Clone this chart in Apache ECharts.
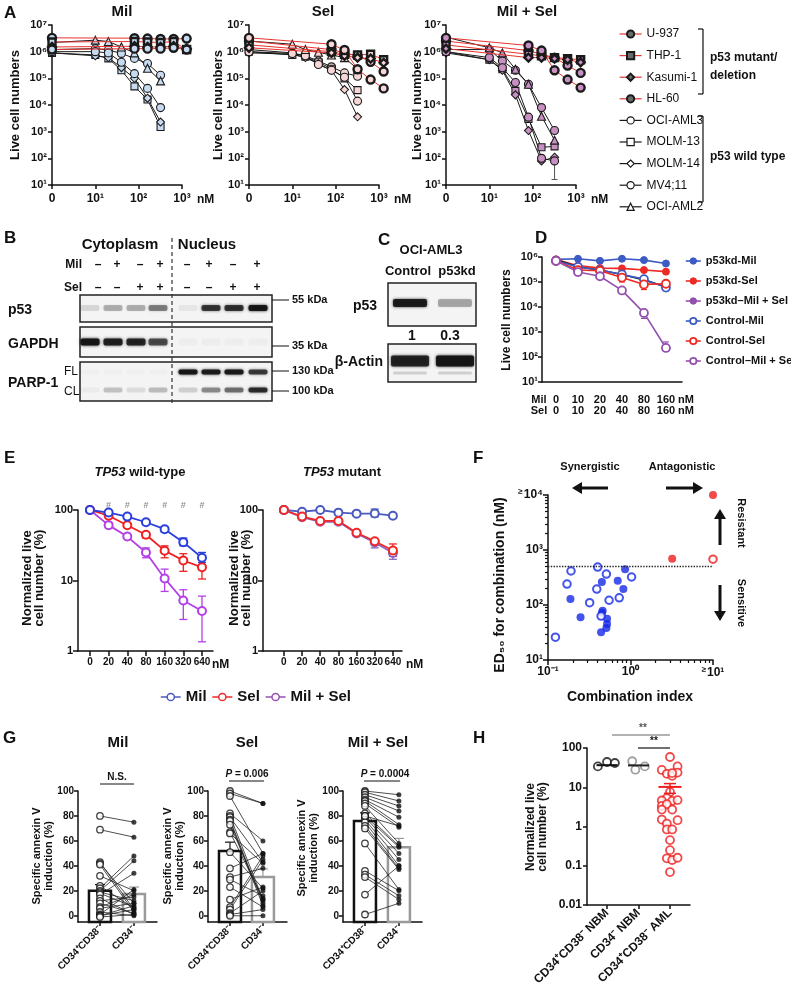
<!DOCTYPE html>
<html><head><meta charset="utf-8"><title>Figure</title>
<script src="https://cdn.jsdelivr.net/npm/echarts@6.0.0/dist/echarts.min.js"></script>
<style>html,body{margin:0;padding:0;background:#fff;}#chart{width:791px;height:990px;}</style>
</head><body><div id="chart"></div>
<script>
const FONT = '"Liberation Sans", Arial, Helvetica, sans-serif';
// ================= DATA =================
// Panel A (0 nM plotted at the axis origin)
const aCellLines = ['U-937','THP-1','Kasumi-1','HL-60','OCI-AML3','MOLM-13','MOLM-14','MV4;11','OCI-AML2'];
const aDoseMutant = [0, 80, 160, 320, 640, 1280];
const aDoseWildType = [0, 10, 20, 40, 80, 160, 320];
const aMil = [
  [3.3e6, 3.2e6, 3.1e6, 3.0e6, 3.0e6, 3.1e6],
  [2.3e6, 2.4e6, 2.3e6, 2.2e6, 2.4e6, 1.2e6],
  [1.5e6, 1.6e6, 1.5e6, 1.5e6, 1.6e6, 1.3e6],
  [1.2e6, 1.3e6, 1.3e6, 1.3e6, 1.4e6, 1.2e6],
  [1.2e6, 1.3e6, 1.15e6, 8.6e5, 5.6e5, 3.6e5, 1.3e5],
  [9e5, 7.5e5, 5.6e5, 2e5, 5e4, 1.6e4, 1.5e3],
  [9e5, 7e5, 6e5, 2.5e5, 1e5, 1.8e4, 2.3e3],
  [1e6, 1e6, 9e5, 4e5, 1.5e5, 4.2e4, 8e3],
  [2.2e6, 2.7e6, 2.4e6, 1.5e6, 9e5, 2.4e5, 8e4]
];
const aSel = [
  [2.5e6, 1.2e6, 9e5, 7e5, 4.2e5, 1.8e5],
  [1.8e6, 1e6, 8e5, 7.5e5, 8e5, 5e5],
  [1.4e6, 9e5, 7e5, 6e5, 5.5e5, 3.8e5],
  [3.3e6, 1.9e6, 1.15e6, 2.2e5, 9e4, 4.2e4],
  [1.2e6, 9e5, 7e5, 4.5e5, 2.7e5, 1.6e5, 1.2e5],
  [1e6, 7.5e5, 6.5e5, 4e5, 2.3e5, 1e5, 3.6e4],
  [9e5, 8e5, 6e5, 3.5e5, 2e5, 3.8e4, 3.6e3],
  [1e6, 8.5e5, 7e5, 3.3e5, 2e5, 1.1e5, 1.4e4],
  [2.5e6, 1.9e6, 1.2e6, 9.5e5, 7.5e5, 6e5, 2.2e5]
];
const aMilSel = [
  [2.5e6, 1.1e6, 8e5, 6e5, 3e5, 1.6e5],
  [1.8e6, 8e5, 7e5, 6e5, 5.5e5, 5e5],
  [1.3e6, 6e5, 6e5, 5.5e5, 5e5, 4e5],
  [3.3e6, 1.7e6, 1.1e6, 2e5, 9e4, 4.5e4],
  [1.2e6, 1.2e6, 4.5e5, 2e5, 6e4, 8e3, 1.1e3],
  [1e6, 5e5, 2.2e5, 3.4e4, 3e3, 2.6e2, 2.8e2],
  [9e5, 5e5, 2e5, 2.4e4, 1.1e3, 8e1, 1.1e2],
  [1e6, 6e5, 2.5e5, 7e4, 3.5e3, 1e2, 8e1],
  [3.5e6, 1.4e6, 9e5, 2.2e5, 6e4, 3.8e3, 4.8e2]
];
const aMilSelErr = [[320, 16, 80]];

// Panel B / C blots (relative band intensities)
const bMilSigns = ['–','+','–','+','–','+','–','+'];
const bSelSigns = ['–','–','+','+','–','–','+','+'];
const bP53 = [0.12, 0.28, 0.28, 0.45, 0.06, 0.75, 0.78, 0.95];
const bGapdh = [0.95, 0.88, 0.85, 0.65, 0.03, 0.03, 0.03, 0.03];
const bParpFL = [0.02, 0.02, 0.02, 0.02, 0.95, 0.9, 0.92, 0.72];
const bParpCL = [0.04, 0.2, 0.1, 0.22, 0.15, 0.4, 0.5, 0.8];
const bMarkers = ['55 kDa', '35 kDa', '130 kDa', '100 kDa'];
const cLanes = ['Control', 'p53kd'];
const cP53 = [0.9, 0.3];
const cActin = [0.85, 0.95];
const cQuant = ['1', '0.3'];

// Panel D
const dMilDose = [0, 10, 20, 40, 80, 160];
const dSelDose = [0, 10, 20, 40, 80, 160];
const dSeriesNames = ['p53kd-Mil','p53kd-Sel','p53kd–Mil + Sel','Control-Mil','Control-Sel','Control–Mil + Sel'];
const dP53kdMil = [8e5, 8.5e5, 7e5, 8.5e5, 7.5e5, 5.5e5];
const dP53kdSel = [8e5, 4.5e5, 3.6e5, 3.5e5, 3e5, 2.6e5];
const dP53kdMilSel = [8e5, 4e5, 3e5, 2e5, 1.2e5, 6.5e4];
const dControlMil = [7e5, 4e5, 3e5, 2e5, 1.3e5, 6e4];
const dControlSel = [7e5, 3e5, 2.8e5, 1.5e5, 8e4, 8.5e4];
const dControlMilSel = [7e5, 2.5e5, 1.7e5, 4.6e4, 5.8e3, 2.3e2];
const dControlMilErr = [[0, 5e5, 9.5e5], [5, 4.5e4, 9e4]];
const dControlSelErr = [[3, 1e5, 2e5], [4, 5e4, 1.2e5]];
const dControlMilSelErr = [[1, 1.8e5, 3.2e5], [4, 3.5e3, 8e3], [5, 1.7e2, 4e2]];

// Panel E
const eDoses = [0, 20, 40, 80, 160, 320, 640];
const eWtMil = [100, 92, 80.6, 67, 53.4, 35, 21];
const eWtSel = [100, 83, 60.8, 44.5, 26.5, 19.2, 15.4];
const eWtMilSel = [100, 61, 42, 25, 10.7, 5.2, 3.7];
const eMutMil = [100, 94.7, 100, 91.7, 88.8, 89, 83];
const eMutSel = [100, 80.6, 70, 70, 47.6, 36, 26.6];
const eMutMilSel = [100, 79, 68, 68, 46.5, 34.6, 24.5];
const eWtMilErr = [[4, 49, 58], [5, 31, 40], [6, 18, 25]];
const eWtSelErr = [[3, 40, 48], [4, 21, 31], [5, 13.5, 24], [6, 10.5, 20]];
const eWtMilSelErr = [[3, 21, 29], [4, 7, 14.5], [5, 2.8, 7.4], [6, 1.35, 6]];
const eMutMilErr = [[5, 80, 103], [6, 78, 88]];
const eMutSelErr = [[6, 22, 33]];
const eMutMilSelErr = [[5, 29, 38], [6, 20, 29]];
const eSignificant = [1, 2, 3, 4, 5, 6];

// Panel F  [combination index, ED50 nM]
const fSynergyFilled = [[0.86,445],[0.70,276],[0.45,263],[0.82,195],[0.187,129],[0.46,79],[0.45,72],[0.248,60],[0.52,56],[0.52,45],[0.51,38],[0.44,32]];
const fSynergyOpen = [[0.40,490],[0.19,415],[0.51,365],[1.03,323],[0.17,240],[0.39,195],[0.73,135],[0.55,122],[0.32,110],[0.44,63],[0.123,26]];
const fAntagonFilled = [[10,10000],[3.2,690]];
const fAntagonOpen = [[10,680]];
const fCiThreshold = 1;
const fEd50Threshold = 500;

// Panel G (paired, CD34+CD38- vs CD34-)
const gCategories = ['CD34⁺CD38⁻', 'CD34⁻'];
const gMilLeft  = [80, 69, 43, 42, 41, 32, 24, 22, 20, 19, 18, 17, 14, 12, 10, 7, 6, 3, 1, 0, 0, -1];
const gMilRight = [75, 63, 5, 10, 3, 20, 6, 48, 44, 12, 7, 34, 1, 15, 2, 17, 10, 0, 21, 8, 5, 1];
const gMilMean = [20, 17.5], gMilSem = [5, 5.5];
const gSelLeft  = [100, 98, 96, 82, 80, 79, 77, 76, 73, 67, 66, 51, 38, 31, 29, 23, 13, 7, 5, 2, 1, 0];
const gSelRight = [90, 90, 50, 60, 13, 43, 10, 8, 12, 14, 42, 22, 50, 38, 16, 7, 23, 48, 45, 20, 5, 0];
const gSelMean = [52, 31], gSelSem = [7, 6.5];
const gMsLeft  = [100, 99, 97, 95, 93, 92, 90, 88, 82, 80, 79, 77, 75, 72, 70, 58, 36, 33, 31, 17, 1, 80];
const gMsRight = [97, 92, 88, 84, 79, 73, 71, 58, 56, 55, 50, 45, 40, 38, 37, 21, 20, 16, 13, 40, 10, 72];
const gMsMean = [76, 55], gMsSem = [6.5, 7];

// Panel H
const hCategories = ['CD34⁺CD38⁻ NBM', 'CD34⁻ NBM', 'CD34⁺CD38⁻ AML'];
const hNbm1 = [34, 44, 41.5];
const hNbm2 = [46, 28, 34];
const hAml = [59, 27.6, 34, 22, 19.5, 23.6, 23, 7.6, 5.3, 4.6, 4.5, 4.7, 3.35, 3.7, 2.7, 2.7, 1.5, 1.45, 1.19, 0.84, 0.84, 0.45, 0.25, 0.155, 0.14, 0.16, 0.069];
const hMeans = [36.5, 36, 10.2];
const hSemHi = [0, 0, 12.4];
const hSemLo = [0, 0, 7];
// horizontal jitter of the dots (layout only)
const hNbm1Jit = [-0.29, 0, 0.25];
const hNbm2Jit = [-0.2, -0.1, 0.2];
const hAmlJit = [0, -0.26, 0.24, -0.1, 0.07, 0.24, 0.07, 0, -0.1, -0.26, 0.07, 0.24, -0.26, -0.1, 0.07, -0.26, -0.26, 0.24, -0.1, -0.1, 0.07, 0, 0, -0.1, 0.07, 0.24, 0];

// ================= BUILD =================
const SUP = {'0':'⁰','1':'¹','2':'²','3':'³','4':'⁴','5':'⁵','6':'⁶','7':'⁷','8':'⁸','9':'⁹','-':'⁻'};
const p10 = e => '10' + String(e).split('').map(c => SUP[c]).join('');
const lg = v => Math.round(Math.log10(v));
const decades = (a, b) => { const r = []; for (let e = a; e <= b; e++) r.push(Math.pow(10, e)); return r; };

const grid = [], xAxis = [], yAxis = [], series = [], graphic = [], legend = [];
function addGrid(l, t, w, h) { grid.push({left: l, top: t, width: w, height: h, containLabel: false, outerBoundsMode: 'none', show: false}); return grid.length - 1; }
function axis(o) {
  const a = {
    gridIndex: o.g, type: o.type || 'value', min: o.min, max: o.max,
    axisLine: {show: o.line !== false, onZero: false, lineStyle: {color: '#111', width: o.lw || 1.5}},
    axisTick: {show: o.ticks !== false, inside: false, length: o.tickLen || 4, lineStyle: {color: '#111', width: o.lw || 1.5}},
    axisLabel: {show: o.labels !== false, color: '#111', fontFamily: FONT, fontWeight: 'bold', fontSize: o.fs || 11,
      margin: o.margin || 6, rotate: o.rotate || 0, hideOverlap: false, showMinLabel: true, showMaxLabel: true},
    splitLine: {show: false}, minorTick: {show: false}, splitArea: {show: false}, axisPointer: {show: false}
  };
  if (o.pos) a.position = o.pos;
  if (o.fmt) a.axisLabel.formatter = o.fmt;
  if (o.lh) a.axisLabel.lineHeight = o.lh;
  if (o.rich) a.axisLabel.rich = o.rich;
  if (o.tv) a.axisTick.customValues = o.tv;
  if (o.lv) a.axisLabel.customValues = o.lv;
  if (o.type === 'log') a.logBase = 10;
  return a;
}
function addX(o) { xAxis.push(axis(o)); return xAxis.length - 1; }
function addY(o) { yAxis.push(axis(o)); return yAxis.length - 1; }

function T(x, y, text, o = {}) {
  const size = o.size || 12;
  const st = {text, fill: o.color || '#111', fontFamily: FONT, fontSize: size, fontWeight: o.weight || 'bold',
    fontStyle: o.italic ? 'italic' : 'normal', align: o.align || 'center', verticalAlign: o.va || 'middle',
    textAlign: o.align || 'center', textVerticalAlign: o.va || 'middle', lineHeight: o.lh || Math.round(size * 1.1)};
  if (o.rich) st.rich = o.rich;
  graphic.push({type: 'text', x, y, rotation: o.rot || 0, z: 50, silent: true, style: st});
}
function Ln(x1, y1, x2, y2, o = {}) {
  const st = {stroke: o.color || '#111', lineWidth: o.w || 1.5};
  if (o.dash) st.lineDash = o.dash;
  graphic.push({type: 'line', z: 50, silent: true, shape: {x1, y1, x2, y2}, style: st});
}
function Rc(x, y, w, h, o = {}) {
  graphic.push({type: 'rect', z: o.z || 40, silent: true, shape: {x, y, width: w, height: h, r: o.r || 0},
    style: {fill: o.fill || 'none', stroke: o.stroke || 'none', lineWidth: o.w || 1, shadowBlur: o.blur || 0, shadowColor: o.sc || 'rgba(0,0,0,0)'}});
}
function Pg(points, color) { graphic.push({type: 'polygon', z: 50, silent: true, shape: {points}, style: {fill: color}}); }
function arrow(x1, y1, x2, y2) {
  const dx = x2 - x1, dy = y2 - y1, len = Math.hypot(dx, dy), ux = dx / len, uy = dy / len;
  const head = 10, hw = 6, bx = x2 - ux * head, by = y2 - uy * head;
  Ln(x1, y1, bx, by, {w: 3});
  Pg([[x2, y2], [bx - uy * hw, by + ux * hw], [bx + uy * hw, by - ux * hw]], '#111');
}
function errBars(xi, yi, data, color, cap, w, z) {
  series.push({type: 'custom', xAxisIndex: xi, yAxisIndex: yi, z: z || 2, silent: true, clip: false, data,
    renderItem: (params, api) => {
      const x = api.value(0), lo = api.value(1), hi = api.value(2);
      const a = api.coord([x, lo]), b = api.coord([x, hi]);
      const st = {stroke: color, lineWidth: w || 1.3, fill: null};
      return {type: 'group', children: [
        {type: 'line', shape: {x1: a[0], y1: a[1], x2: b[0], y2: b[1]}, style: st},
        {type: 'line', shape: {x1: a[0] - cap, y1: a[1], x2: a[0] + cap, y2: a[1]}, style: st},
        {type: 'line', shape: {x1: b[0] - cap, y1: b[1], x2: b[0] + cap, y2: b[1]}, style: st}]};
    }});
}
const LETTER = 17;

// ---------- Panel A ----------
T(4, 13, 'A', {size: LETTER, align: 'left'});
const aPanels = [
  {data: aMil, left: 52, fill: '#c7dbf0', title: 'Mil', tx: 122, ytx: 15},
  {data: aSel, left: 249, fill: '#f7d6d6', title: 'Sel', tx: 323, ytx: 218},
  {data: aMilSel, left: 446, fill: '#c78fc2', title: 'Mil + Sel', tx: 527, ytx: 417}
];
const aSym = ['circle','rect','diamond','circle','circle','rect','diamond','circle','triangle'];
const aSymSize = [8, 7, 8, 8, 8, 7, 8, 8, 8];
aPanels.forEach((p, pi) => {
  const g = addGrid(p.left, 25, 130, 160);
  const xi = addX({g, type: 'log', min: 1, max: 1000, tv: decades(0, 3), lv: decades(0, 3),
    fmt: v => v < 1.5 ? '0' : p10(lg(v)), fs: 12, margin: 8});
  const yi = addY({g, type: 'log', min: 10, max: 1e7, tv: decades(1, 7), lv: decades(1, 7), fmt: v => p10(lg(v)), fs: 11, margin: 5});
  p.data.forEach((vals, i) => {
    const mut = i < 4; const doses = mut ? aDoseMutant : aDoseWildType;
    series.push({type: 'line', name: aCellLines[i], xAxisIndex: xi, yAxisIndex: yi, clip: false, z: mut ? 4 : 3,
      data: doses.map((d, k) => [d === 0 ? 1 : d, vals[k]]),
      symbol: aSym[i], symbolSize: aSymSize[i],
      lineStyle: {color: mut ? '#e8332e' : '#1a1a1a', width: 1},
      itemStyle: {color: p.fill, borderColor: '#1a1a1a', borderWidth: mut ? 2.4 : 1.1}});
  });
  if (pi === 2) errBars(xi, yi, aMilSelErr, '#555', 3, 1, 2);
  T(p.tx, 12, p.title, {size: 15});
  T(p.ytx, 105, 'Live cell numbers', {size: 13, rot: Math.PI / 2});
  T(p.left + 145, 200, 'nM', {size: 12, align: 'left'});
});
legend.push({orient: 'vertical', left: 614, top: 22, itemWidth: 22, itemHeight: 9, itemGap: 7.6, selectedMode: false,
  textStyle: {fontFamily: FONT, fontSize: 12, color: '#111', lineHeight: 14},
  data: aCellLines.map((n, i) => ({name: n,
    itemStyle: {color: i < 4 ? '#6a6a6a' : '#fff', borderColor: '#1a1a1a', borderWidth: i < 4 ? 2 : 1.2},
    lineStyle: {color: i < 4 ? '#e8332e' : '#1a1a1a', width: 1.2}}))});
Ln(703, 29, 703, 94, {w: 1.2}); Ln(698, 29, 703, 29, {w: 1.2}); Ln(698, 94, 703, 94, {w: 1.2});
Ln(703, 116, 703, 202, {w: 1.2}); Ln(698, 116, 703, 116, {w: 1.2}); Ln(698, 202, 703, 202, {w: 1.2});
T(710, 58, 'p53 mutant/', {size: 12, align: 'left'});
T(710, 76, 'deletion', {size: 12, align: 'left'});
T(710, 157, 'p53 wild type', {size: 12, align: 'left'});

// ---------- Panel B ----------
T(4, 238, 'B', {size: LETTER, align: 'left'});
T(120, 245, 'Cytoplasm', {size: 15});
T(207, 245, 'Nucleus', {size: 15});
T(82, 265, 'Mil', {size: 12, align: 'right'});
T(82, 288, 'Sel', {size: 12, align: 'right'});
const bSignX = [98, 117, 140, 160, 187, 209, 233, 257];
const bLaneX = [90, 113, 136, 158, 188, 211, 234, 258];
bSignX.forEach((x, i) => { T(x, 265, bMilSigns[i], {size: 12}); T(x, 288, bSelSigns[i], {size: 12}); });
const boxStyle = {stroke: '#222', w: 1.5, fill: '#f4f4f4', z: 30};
Rc(80, 295, 192, 27, boxStyle); Rc(80, 327, 192, 30, boxStyle); Rc(80, 362, 192, 39, boxStyle);
function band(cx, cy, w, h, a) { Rc(cx - w / 2, cy - h / 2, w, h, {fill: `rgba(20,20,20,${a})`, blur: 3, sc: `rgba(20,20,20,${a})`, r: 2, z: 35}); }
bLaneX.forEach((x, i) => {
  band(x, 308, 19, 6, bP53[i]);
  band(x, 342, 19, 7, bGapdh[i]);
  band(x, 372, 19, 5, bParpFL[i]);
  band(x, 390, 19, 5, bParpCL[i]);
});
Ln(172, 238, 172, 405, {w: 1.2, dash: [4, 3], color: '#333'});
T(8, 310, 'p53', {size: 14, align: 'left'});
T(8, 344, 'GAPDH', {size: 14, align: 'left'});
T(8, 383, 'PARP-1', {size: 14, align: 'left'});
T(64, 372, 'FL', {size: 12, weight: 'normal', align: 'left'});
T(64, 392, 'CL', {size: 12, weight: 'normal', align: 'left'});
[300, 346, 371, 391].forEach((y, i) => { Ln(272, y, 289, y, {w: 1}); T(292, y, bMarkers[i], {size: 11, align: 'left'}); });

// ---------- Panel C ----------
T(378, 240, 'C', {size: LETTER, align: 'left'});
T(431, 250, 'OCI-AML3', {size: 13});
const cLaneX = [410, 455];
cLaneX.forEach((x, i) => { T(x - (i ? -2 : 2), 271, cLanes[i], {size: 13}); });
Rc(388, 283, 88, 43, boxStyle); Rc(388, 344, 88, 38, boxStyle);
cLaneX.forEach((x, i) => {
  band(x, 303, 34, 8, cP53[i]);
  band(x, 361, 38, 11, cActin[i]);
  band(x, 373, 34, 3, 0.15);
  T(x + (i ? -5 : 2), 336, cQuant[i], {size: 14});
});
T(377, 306, 'p53', {size: 14, align: 'right'});
T(383, 362, 'β-Actin', {size: 14, align: 'right'});

// ---------- Panel D ----------
T(535, 238, 'D', {size: LETTER, align: 'left'});
const gD = addGrid(542, 257, 140, 125);
const xD = addX({g: gD, min: -0.636, max: 5.73, ticks: false, lv: [0, 1, 2, 3, 4, 5],
  fmt: v => dMilDose[Math.round(v)] + '\n' + dSelDose[Math.round(v)], fs: 11, margin: 12, lh: 11});
const yD = addY({g: gD, type: 'log', min: 10, max: 1e6, tv: decades(1, 6), lv: decades(1, 6), fmt: v => p10(lg(v)), fs: 11, margin: 4});
T(507, 320, 'Live cell numbers', {size: 12, rot: Math.PI / 2});
T(539, 400, 'Mil', {size: 11}); T(539, 411, 'Sel', {size: 11});
T(678, 400, 'nM', {size: 11, align: 'left'}); T(678, 411, 'nM', {size: 11, align: 'left'});
const dBlue = '#3c5bc4', dRed = '#ee2a24', dPurple = '#9450ae';
const dData = [dP53kdMil, dP53kdSel, dP53kdMilSel, dControlMil, dControlSel, dControlMilSel];
const dColors = [dBlue, dRed, dPurple, dBlue, dRed, dPurple];
dData.forEach((vals, k) => {
  const kd = k < 3, c = dColors[k];
  series.push({type: 'line', name: dSeriesNames[k], xAxisIndex: xD, yAxisIndex: yD, clip: false, z: 3 + (k === 5 ? 1 : 0),
    data: vals.map((v, i) => [i, v]), symbol: 'circle', symbolSize: kd ? 7 : 8,
    lineStyle: {color: k === 2 ? '#1a1a1a' : c, width: 1.6},
    itemStyle: {color: kd ? c : '#fff', borderColor: c, borderWidth: kd ? 1 : 1.8}});
});
errBars(xD, yD, dControlMilErr, dBlue, 3, 1.2);
errBars(xD, yD, dControlSelErr, dRed, 3, 1.2);
errBars(xD, yD, dControlMilSelErr, dPurple, 3, 1.2);
legend.push({orient: 'vertical', left: 680, top: 249, itemWidth: 15, itemHeight: 8, itemGap: 6, selectedMode: false,
  textStyle: {fontFamily: FONT, fontSize: 11, fontWeight: 'bold', color: '#111', lineHeight: 14},
  data: dSeriesNames.map((n, k) => ({name: n, itemStyle: {color: k < 3 ? dColors[k] : '#fff', borderColor: dColors[k], borderWidth: k < 3 ? 1 : 1.8},
    lineStyle: {color: dColors[k], width: 1.6}}))});

// ---------- Panel E ----------
T(4, 458, 'E', {size: LETTER, align: 'left'});
const eRich = {i: {fontStyle: 'italic', fontWeight: 'bold', fontSize: 13, fontFamily: FONT, fill: '#111'}};
T(140, 472, '{i|TP53} wild-type', {size: 13, rich: eRich});
T(342, 472, '{i|TP53} mutant', {size: 13, rich: eRich});
const ePanels = [
  {left: 78, width: 135, min: -0.64, max: 6.59, data: [eWtMil, eWtSel, eWtMilSel], err: [eWtMilErr, eWtSelErr, eWtMilSelErr],
   colors: ['#2a3fdc', '#f02020', '#b43fe8'], nm: 212, ytx: 33},
  {left: 263, width: 139, min: -1.15, max: 6.5, data: [eMutMil, eMutSel, eMutMilSel], err: [eMutMilErr, eMutSelErr, eMutMilSelErr],
   colors: ['#4a5bc0', '#f02828', '#8a64c0'], nm: 406, ytx: 240}
];
const eNames = ['Mil', 'Sel', 'Mil + Sel'];
ePanels.forEach((p, pi) => {
  const g = addGrid(p.left, 510, p.width, 141);
  const xi = addX({g, min: p.min, max: p.max, tv: [0, 1, 2, 3, 4, 5, 6], lv: [0, 1, 2, 3, 4, 5, 6],
    fmt: v => String(eDoses[Math.round(v)]), fs: 10, margin: 6, tickLen: 5});
  const yi = addY({g, type: 'log', min: 1, max: 100, tv: [1, 10, 100], lv: [1, 10, 100], fmt: v => String(Math.round(v)), fs: 11, margin: 5, tickLen: 5});
  const order = pi === 0 ? [2, 1, 0] : [2, 0, 1];
  order.forEach(k => {
    errBars(xi, yi, p.err[k], p.colors[k], 4, 1.3, 2);
    series.push({type: 'line', name: eNames[k], xAxisIndex: xi, yAxisIndex: yi, clip: false, z: 3,
      data: p.data[k].map((v, i) => [i, v]), symbol: 'circle', symbolSize: 8,
      lineStyle: {color: p.colors[k], width: 1.8},
      itemStyle: {color: '#fff', borderColor: p.colors[k], borderWidth: 2}});
  });
  if (pi === 0) {
    series.push({type: 'scatter', xAxisIndex: xi, yAxisIndex: yi, clip: false, silent: true, symbolSize: 1,
      itemStyle: {color: 'rgba(0,0,0,0)'}, data: eSignificant.map(i => [i, 117]),
      label: {show: true, position: 'inside', formatter: '#', color: '#777', fontSize: 9, fontFamily: FONT, fontWeight: 'bold'}});
  }
  T(p.nm, 665, 'nM', {size: 12, align: 'left'});
  T(p.ytx, 578, 'Normalized live\ncell number (%)', {size: 13, rot: Math.PI / 2, lh: 12});
});
legend.push({orient: 'horizontal', left: 155, top: 684, itemWidth: 20, itemHeight: 9, itemGap: 5, selectedMode: false,
  textStyle: {fontFamily: FONT, fontSize: 15, fontWeight: 'bold', color: '#111', lineHeight: 16},
  data: eNames.map((n, k) => ({name: n, itemStyle: {color: '#fff', borderColor: ['#4a5bc0', '#f02828', '#9450ae'][k], borderWidth: 1.5},
    lineStyle: {color: ['#4a5bc0', '#f02828', '#9450ae'][k], width: 1.5}}))});

// ---------- Panel F ----------
T(473, 458, 'F', {size: LETTER, align: 'left'});
const gF = addGrid(548, 495, 165, 165);
const geRich = {g: {fontSize: 8, fontWeight: 'bold', fontFamily: FONT, color: '#111', padding: [0, 1, 6, 0]}};
const xF = addX({g: gF, type: 'log', min: 0.1, max: 10, tv: [0.1, 1, 10], lv: [0.1, 1, 10],
  fmt: v => (lg(v) === 1 ? '{g|≥}' : '') + p10(lg(v)), rich: geRich, fs: 12, margin: 6, tickLen: 5});
const fMinorX = [], fMinorY = [];
[0.1, 1].forEach(d => { for (let m = 2; m <= 9; m++) fMinorX.push(+(d * m).toPrecision(3)); });
[10, 100, 1000].forEach(d => { for (let m = 2; m <= 9; m++) fMinorY.push(d * m); });
addX({g: gF, type: 'log', min: 0.1, max: 10, pos: 'bottom', line: false, labels: false, tv: fMinorX, tickLen: 3, lw: 1.2});
const yF = addY({g: gF, type: 'log', min: 10, max: 1e4, tv: decades(1, 4), lv: decades(1, 4),
  fmt: v => (lg(v) === 4 ? '{g|≥}' : '') + p10(lg(v)), rich: geRich, fs: 12, margin: 5, tickLen: 5});
addY({g: gF, type: 'log', min: 10, max: 1e4, pos: 'left', line: false, labels: false, tv: fMinorY, tickLen: 3, lw: 1.2});
const fBlue = '#1428e6', fRed = '#ee1d1d';
series.push({type: 'scatter', xAxisIndex: xF, yAxisIndex: yF, clip: false, z: 4, symbolSize: 8,
  itemStyle: {color: fBlue}, data: fSynergyFilled,
  markLine: {silent: true, symbol: ['none', 'none'], label: {show: false}, animation: false,
    lineStyle: {type: 'dotted', color: '#222', width: 1.4},
    data: [[{coord: [fCiThreshold, 10]}, {coord: [fCiThreshold, 1.1e4]}], [{coord: [0.1, fEd50Threshold]}, {coord: [10, fEd50Threshold]}]]}});
series.push({type: 'scatter', xAxisIndex: xF, yAxisIndex: yF, clip: false, z: 4, symbolSize: 7.5,
  itemStyle: {color: '#fff', borderColor: fBlue, borderWidth: 2}, data: fSynergyOpen});
series.push({type: 'scatter', xAxisIndex: xF, yAxisIndex: yF, clip: false, z: 4, symbolSize: 8,
  itemStyle: {color: fRed}, data: fAntagonFilled});
series.push({type: 'scatter', xAxisIndex: xF, yAxisIndex: yF, clip: false, z: 4, symbolSize: 7.5,
  itemStyle: {color: '#fff', borderColor: fRed, borderWidth: 2}, data: fAntagonOpen});
T(630, 697, 'Combination index', {size: 14});
T(500, 585, 'ED₅₀ for combination (nM)', {size: 14, rot: Math.PI / 2});
T(590, 467, 'Synergistic', {size: 11}); T(682, 467, 'Antagonistic', {size: 11});
arrow(608, 488, 572, 488); arrow(666, 488, 703, 488);
arrow(720, 545, 720, 509); arrow(720, 585, 720, 621);
T(741, 523, 'Resistant', {size: 11, rot: -Math.PI / 2});
T(741, 603, 'Sensitive', {size: 11, rot: -Math.PI / 2});

// ---------- Panel G ----------
T(3, 738, 'G', {size: LETTER, align: 'left'});
const gRichP = {i: {fontStyle: 'italic', fontWeight: 'bold', fontSize: 10, fontFamily: FONT, fill: '#111'}};
const gPanels = [
  {left: 78, min: -0.647, max: 1.68, L: gMilLeft, R: gMilRight, mean: gMilMean, sem: gMilSem, title: 'Mil', tx: 118, ytx: 43, yty: 856,
   sig: 'N.S.', sx: 117, sy: 777, l1: 100, l2: 134, ly: 784},
  {left: 208, min: -0.667, max: 1.73, L: gSelLeft, R: gSelRight, mean: gSelMean, sem: gSelSem, title: 'Sel', tx: 247, ytx: 174, yty: 856,
   sig: '{i|P} = 0.006', sx: 247, sy: 774, l1: 229, l2: 264, ly: 781},
  {left: 343, min: -0.647, max: 1.68, L: gMsLeft, R: gMsRight, mean: gMsMean, sem: gMsSem, title: 'Mil + Sel', tx: 378, ytx: 308, yty: 848,
   sig: '{i|P} = 0.0004', sx: 385, sy: 774, l1: 364, l2: 400, ly: 781}
];
gPanels.forEach(p => {
  const g = addGrid(p.left, 791, 79, 131);
  const xi = addX({g, min: p.min, max: p.max, tv: [0, 1], lv: [0, 1], fmt: v => gCategories[Math.round(v)], rotate: 45, fs: 10, margin: 6});
  const yi = addY({g, min: -5, max: 100, tv: [0, 20, 40, 60, 80, 100], lv: [0, 20, 40, 60, 80, 100], fs: 10, margin: 4});
  series.push({type: 'custom', xAxisIndex: xi, yAxisIndex: yi, z: 1, silent: true, clip: false,
    data: p.mean.map((m, k) => [k, m, p.sem[k]]),
    renderItem: (params, api) => {
      const k = api.value(0), m = api.value(1), s = api.value(2);
      const top = api.coord([k, m]), bot = api.coord([k, -5]), cap = api.coord([k, m + s]);
      const col = params.dataIndex === 0 ? '#111' : '#9a9a9a';
      return {type: 'group', children: [
        {type: 'rect', shape: {x: top[0] - 11, y: top[1], width: 22, height: bot[1] - top[1]}, style: {fill: '#fff', stroke: col, lineWidth: 2.5}},
        {type: 'line', shape: {x1: top[0], y1: top[1], x2: cap[0], y2: cap[1]}, style: {stroke: col, lineWidth: 1.2}},
        {type: 'line', shape: {x1: cap[0] - 5, y1: cap[1], x2: cap[0] + 5, y2: cap[1]}, style: {stroke: col, lineWidth: 1.2}}]};
    }});
  series.push({type: 'custom', xAxisIndex: xi, yAxisIndex: yi, z: 2, silent: true, clip: false,
    data: p.L.map((l, i) => [0, l, 1, p.R[i]]),
    renderItem: (params, api) => {
      const a = api.coord([api.value(0), api.value(1)]), b = api.coord([api.value(2), api.value(3)]);
      return {type: 'line', shape: {x1: a[0], y1: a[1], x2: b[0], y2: b[1]}, style: {stroke: '#222', lineWidth: 0.8}};
    }});
  series.push({type: 'scatter', xAxisIndex: xi, yAxisIndex: yi, z: 3, clip: false, symbolSize: 6.5,
    itemStyle: {color: '#fff', borderColor: '#111', borderWidth: 1.3}, data: p.L.map(v => [0, v])});
  series.push({type: 'scatter', xAxisIndex: xi, yAxisIndex: yi, z: 3, clip: false, symbolSize: 5,
    itemStyle: {color: '#111'}, data: p.R.map(v => [1, v])});
  T(p.tx, 743, p.title, {size: 15});
  T(p.sx, p.sy, p.sig, {size: 10, rich: gRichP});
  Ln(p.l1, p.ly, p.l2, p.ly, {w: 1});
  T(p.ytx, p.yty, 'Specific annexin V\ninduction (%)', {size: 11, rot: Math.PI / 2, lh: 12});
});

// ---------- Panel H ----------
T(473, 738, 'H', {size: LETTER, align: 'left'});
const gH = addGrid(587, 748, 103, 157);
const xH = addX({g: gH, min: -0.635, max: 2.635, tv: [0, 1, 2], lv: [0, 1, 2], fmt: v => hCategories[Math.round(v)], rotate: 45, fs: 12, margin: 6});
const hLab = {'-2': '0.01', '-1': '0.1', '0': '1', '1': '10', '2': '100'};
const yH = addY({g: gH, type: 'log', min: 0.01, max: 100, tv: decades(-2, 2), lv: decades(-2, 2), fmt: v => hLab[lg(v)], fs: 12, margin: 5});
series.push({type: 'custom', xAxisIndex: xH, yAxisIndex: yH, z: 4, silent: true, clip: false,
  data: hMeans.map((m, k) => [k, m, hSemHi[k], hSemLo[k]]),
  renderItem: (params, api) => {
    const k = api.value(0), m = api.value(1), hi = api.value(2), lo = api.value(3);
    const c = api.coord([k, m]); const col = ['#111', '#222', '#ee1d1d'][params.dataIndex];
    const hw = params.dataIndex === 2 ? 11.5 : 10.5;
    const ch = [{type: 'line', shape: {x1: c[0] - hw, y1: c[1], x2: c[0] + hw, y2: c[1]}, style: {stroke: col, lineWidth: 2}}];
    if (hi > 0) {
      const a = api.coord([k, hi]), b = api.coord([k, lo]);
      ch.push({type: 'line', shape: {x1: a[0], y1: a[1], x2: b[0], y2: b[1]}, style: {stroke: col, lineWidth: 1.5}});
      ch.push({type: 'line', shape: {x1: a[0] - 6, y1: a[1], x2: a[0] + 6, y2: a[1]}, style: {stroke: col, lineWidth: 1.5}});
      ch.push({type: 'line', shape: {x1: b[0] - 6, y1: b[1], x2: b[0] + 6, y2: b[1]}, style: {stroke: col, lineWidth: 1.5}});
    }
    return {type: 'group', children: ch};
  }});
[[hNbm1, hNbm1Jit, '#111', 0], [hNbm2, hNbm2Jit, '#8a8a8a', 1], [hAml, hAmlJit, '#ee1d1d', 2]].forEach(([vals, jit, col, k]) => {
  series.push({type: 'scatter', xAxisIndex: xH, yAxisIndex: yH, z: 3, clip: false, symbolSize: 8,
    itemStyle: {color: '#fff', borderColor: col, borderWidth: 1.8}, data: vals.map((v, i) => [k + jit[i], v])});
});
Ln(612, 735, 670, 735, {w: 1.2, color: '#666'}); T(643, 728, '**', {size: 10, color: '#555'});
Ln(638, 748, 670, 748, {w: 1.2}); T(654, 741, '**', {size: 10});
T(537, 827, 'Normalized live\ncell number (%)', {size: 12, rot: Math.PI / 2, lh: 12});

// ================= RENDER =================
const chart = echarts.init(document.getElementById('chart'), null, {renderer: 'canvas', width: 791, height: 990});
chart.setOption({animation: false, backgroundColor: '#fff', textStyle: {fontFamily: FONT},
  tooltip: {show: false}, grid, xAxis, yAxis, series, legend, graphic});
</script></body></html>
